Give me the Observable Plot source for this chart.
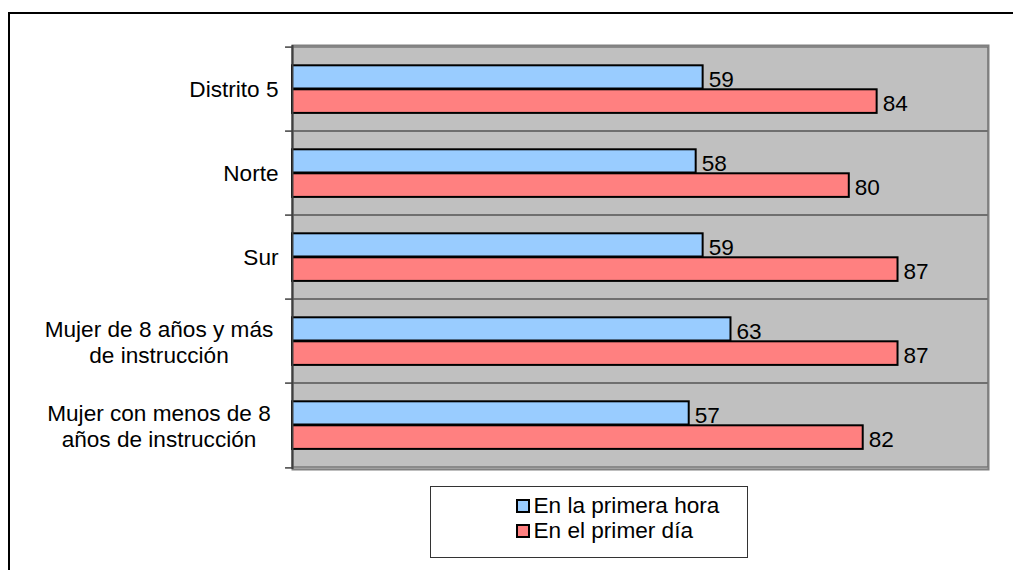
<!DOCTYPE html>
<html>
<head>
<meta charset="utf-8">
<script src="https://cdn.jsdelivr.net/npm/d3@7"></script>
<script src="https://cdn.jsdelivr.net/npm/@observablehq/plot@0.6"></script>
<style>
  html, body { margin: 0; padding: 0; background: #fff; overflow: hidden; width: 1013px; height: 570px; }
  #frame { position: absolute; left: 8px; top: 12px; width: 1100px; height: 700px; border: 2px solid #000; box-sizing: border-box; }
  #chart { position: absolute; left: 0; top: 0; }
  #legend { position: absolute; left: 430px; top: 486px; width: 318px; height: 72px; border: 1px solid #333; box-sizing: border-box; background: #fff;
            font-family: "Liberation Sans", Arial, sans-serif; font-size: 22.6px; color: #000; }
  .sw { position: absolute; width: 14px; height: 14px; box-sizing: border-box; border: 2px solid #000; }
  .lt { position: absolute; line-height: 22px; white-space: nowrap; }
</style>
</head>
<body>
<div id="frame"></div>
<div id="chart"></div>
<div id="legend"></div>
<script>
// ---- Data ----
const categories = [
  "Distrito 5",
  "Norte",
  "Sur",
  "Mujer de 8 años y más\nde instrucción",
  "Mujer con menos de 8\naños de instrucción"
];
const primeraHora = [59, 58, 59, 63, 57];
const primerDia   = [84, 80, 87, 87, 82];
const seriesNames = ["En la primera hora", "En el primer día"];
const seriesColors = ["#99CCFF", "#FF8080"];

const rows = categories.map((c, i) => ({cat: c, hora: primeraHora[i], dia: primerDia[i]}));
const singleLine = categories.filter(c => !c.includes("\n"));
const multiLine = categories.filter(c => c.includes("\n"));

const W = 1013, H = 480, mt = 45, mb = 11;
const half = (H - mt - mb) / categories.length / 2;
const font = "Liberation Sans, Arial, sans-serif";
const fs = 22.6;

const chart = Plot.plot({
  width: W,
  height: H,
  marginLeft: 292,
  marginRight: 25,
  marginTop: mt,
  marginBottom: mb,
  x: {domain: [0, 100], axis: null},
  y: {domain: categories, padding: 0, axis: null},
  style: {fontFamily: font, fontSize: fs + "px", background: "transparent", overflow: "visible"},
  marks: [
    Plot.frame({fill: "#C0C0C0"}),
    Plot.barX(categories, {x1: 0, x2: 100, y: d => d, fill: "none", stroke: "#555", strokeWidth: 1}),
    Plot.frame({stroke: "#808080", strokeWidth: 2}),
    Plot.barX(rows, {x: "hora", y: "cat", fill: seriesColors[0], stroke: "#000", strokeWidth: 2, insetTop: 18.3, insetBottom: 42.5}),
    Plot.barX(rows, {x: "dia", y: "cat", fill: seriesColors[1], stroke: "#000", strokeWidth: 2, insetTop: 42.3, insetBottom: 18.1}),
    Plot.ruleX([0], {stroke: "#404040", strokeWidth: 2}),
    Plot.ruleY(categories, {y: d => d, x1: -1, x2: 0, dy: -half, stroke: "#404040", strokeWidth: 1.5}),
    Plot.ruleY(categories.slice(-1), {y: d => d, x1: -1, x2: 0, dy: half, stroke: "#404040", strokeWidth: 1.5}),
    Plot.text(singleLine, {y: d => d, text: d => d, frameAnchor: "left", textAnchor: "end", dx: -14, fontSize: fs, fontFamily: font, fill: "#000"}),
    Plot.text(multiLine, {y: d => d, text: d => d, frameAnchor: "left", textAnchor: "middle", dx: -133.5, lineHeight: 1.16, fontSize: fs, fontFamily: font, fill: "#000"}),
    Plot.text(rows, {x: "hora", y: "cat", text: d => String(d.hora), textAnchor: "start", dx: 5.5, dy: -10, fontSize: fs, fontFamily: font, fill: "#000"}),
    Plot.text(rows, {x: "dia", y: "cat", text: d => String(d.dia), textAnchor: "start", dx: 5.5, dy: 14, fontSize: fs, fontFamily: font, fill: "#000"})
  ]
});
document.getElementById("chart").appendChild(chart);

// ---- Legend ----
const legend = document.getElementById("legend");
seriesNames.forEach((name, i) => {
  const sw = document.createElement("div");
  sw.className = "sw";
  sw.style.left = "85px";
  sw.style.top = (11.5 + i * 25) + "px";
  sw.style.background = seriesColors[i];
  legend.appendChild(sw);
  const t = document.createElement("div");
  t.className = "lt";
  t.style.left = "102.5px";
  t.style.top = (8 + i * 25) + "px";
  t.textContent = name;
  legend.appendChild(t);
});
</script>
</body>
</html>
